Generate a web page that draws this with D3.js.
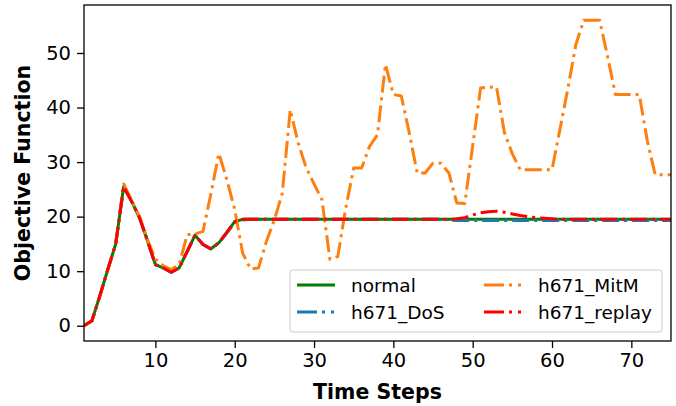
<!DOCTYPE html>
<html>
<head>
<meta charset="utf-8">
<script src="https://cdn.jsdelivr.net/npm/d3@7"></script>
<style>
    body { margin: 0; background: #fff; }
    text { font-family: "DejaVu Sans", sans-serif; fill: #000; }
</style>
</head>
<body>
<svg id="chart_svg" width="676" height="406"></svg>
<script>
// time steps 1..75
const g_steps = d3.range(1, 76);
const g_series_names = ["normal", "h671_DoS", "h671_MitM", "h671_replay"];
const g_colors = ["green", "#1f77b4", "#ff7f0e", "red"];
const g_x_ticks = [10, 20, 30, 40, 50, 60, 70];
const g_y_ticks = [0, 10, 20, 30, 40, 50];

const g_normal = [0, 0.9, 5.5, 10.3, 15.0, 25.5, 22.8, 19.8, 15.6, 11.2,
    10.6, 9.8, 10.6, 13.6, 16.6, 14.9, 14.1, 15.2, 17.1, 19.1,
    19.5, 19.5, 19.5, 19.5, 19.5, 19.5, 19.5, 19.5, 19.5, 19.5,
    19.5, 19.5, 19.5, 19.5, 19.5, 19.5, 19.5, 19.5, 19.5, 19.5,
    19.5, 19.5, 19.5, 19.5, 19.5, 19.5, 19.5, 19.5, 19.5, 19.5,
    19.5, 19.5, 19.5, 19.5, 19.5, 19.5, 19.5, 19.5, 19.5, 19.5,
    19.5, 19.5, 19.5, 19.5, 19.5, 19.5, 19.5, 19.5, 19.5, 19.5,
    19.5, 19.5, 19.5, 19.5, 19.5];
const g_dos = [0, 0.9, 5.5, 10.3, 15.0, 25.5, 22.8, 19.8, 15.6, 11.2,
    10.6, 9.8, 10.6, 13.6, 16.6, 14.9, 14.1, 15.2, 17.0, 18.9,
    19.4, 19.5, 19.5, 19.5, 19.5, 19.5, 19.5, 19.5, 19.5, 19.5,
    19.5, 19.5, 19.5, 19.5, 19.5, 19.5, 19.5, 19.5, 19.5, 19.5,
    19.5, 19.5, 19.5, 19.5, 19.5, 19.5, 19.4, 19.3, 19.3, 19.3,
    19.3, 19.3, 19.3, 19.3, 19.3, 19.3, 19.3, 19.3, 19.3, 19.3,
    19.3, 19.3, 19.3, 19.3, 19.3, 19.3, 19.3, 19.3, 19.3, 19.3,
    19.3, 19.3, 19.3, 19.3, 19.3];
const g_mitm = [0, 0.9, 5.5, 10.3, 15.0, 26.0, 23.0, 20.0, 15.8, 12.2,
    11.0, 10.3, 11.2, 16.7, 16.8, 17.3, 24.2, 31.6, 26.8, 21.3,
    13.3, 10.4, 10.6, 15.5, 19.4, 24.3, 39.6, 33.5, 29.0, 26.0,
    23.1, 12.2, 12.7, 21.6, 28.9, 28.9, 32.9, 35.0, 47.9, 42.4,
    42.1, 35.4, 28.0, 28.0, 29.8, 29.8, 28.0, 22.5, 22.4, 33.0,
    43.6, 43.7, 43.8, 35.4, 31.5, 28.6, 28.6, 28.6, 28.6, 28.6,
    36.0, 43.5, 51.5, 56.0, 56.0, 56.0, 49.4, 42.4, 42.4, 42.4,
    42.4, 34.0, 27.7, 27.7, 27.7];
const g_replay = [0, 0.9, 5.5, 10.3, 15.0, 25.5, 22.8, 19.8, 15.6, 11.2,
    10.6, 9.8, 10.6, 13.6, 16.6, 14.9, 14.1, 15.2, 17.1, 19.1,
    19.5, 19.5, 19.5, 19.5, 19.5, 19.5, 19.5, 19.5, 19.5, 19.5,
    19.5, 19.5, 19.5, 19.5, 19.5, 19.5, 19.5, 19.5, 19.5, 19.5,
    19.5, 19.5, 19.5, 19.5, 19.5, 19.5, 19.5, 19.6, 19.8, 20.3,
    20.7, 20.9, 21.0, 20.8, 20.5, 20.2, 20.0, 19.8, 19.7, 19.6,
    19.5, 19.5, 19.5, 19.5, 19.5, 19.5, 19.5, 19.5, 19.5, 19.5,
    19.5, 19.5, 19.5, 19.5, 19.5];

const g_plot = { left: 84, top: 5, right: 671, bottom: 341 };
const g_dash = "17,5,3,5";

var svg = d3.select("#chart_svg");
var x_scale = d3.scaleLinear().domain([1, 75]).range([g_plot.left, g_plot.right]);
var y_scale = d3.scaleLinear().domain([-2.8, 58.8]).range([g_plot.bottom, g_plot.top]);

// clip lines to plot area
svg.append("defs").append("clipPath").attr("id", "plot_clip")
    .append("rect")
    .attr("x", g_plot.left).attr("y", g_plot.top)
    .attr("width", g_plot.right - g_plot.left).attr("height", g_plot.bottom - g_plot.top);

// series lines, drawn in order so replay ends on top
var all_series = [g_normal, g_dos, g_mitm, g_replay];
var line_gen = d3.line().x((d, i) => x_scale(g_steps[i])).y(d => y_scale(d));
svg.append("g").attr("clip-path", "url(#plot_clip)")
    .selectAll(".series").data(all_series).join("path").classed("series", true)
    .attr("d", d => line_gen(d))
    .attr("fill", "none")
    .attr("stroke", (d, i) => g_colors[i])
    .attr("stroke-width", 3)
    .attr("stroke-linejoin", "round")
    .attr("stroke-dasharray", (d, i) => i == 0 ? null : g_dash);

// axes
var x_axis = svg.append("g").attr("transform", "translate(0," + g_plot.bottom + ")")
    .call(d3.axisBottom(x_scale).tickValues(g_x_ticks).tickSize(7).tickPadding(5));
var y_axis = svg.append("g").attr("transform", "translate(" + g_plot.left + ",0)")
    .call(d3.axisLeft(y_scale).tickValues(g_y_ticks).tickSize(7).tickPadding(6));
[x_axis, y_axis].forEach(function (ax) {
    ax.select(".domain").remove();
    ax.selectAll(".tick line").attr("stroke", "#000").attr("stroke-width", 1.3);
    ax.selectAll(".tick text").attr("font-size", 19.5).attr("font-family", "DejaVu Sans").attr("fill", "#000");
});

// frame
svg.append("rect")
    .attr("x", g_plot.left).attr("y", g_plot.top)
    .attr("width", g_plot.right - g_plot.left).attr("height", g_plot.bottom - g_plot.top)
    .attr("fill", "none").attr("stroke", "#000").attr("stroke-width", 1.3);

// axis labels
svg.append("text")
    .attr("x", (g_plot.left + g_plot.right) / 2).attr("y", 399)
    .attr("text-anchor", "middle").attr("font-size", 20.5).attr("font-weight", "bold")
    .text("Time Steps");
svg.append("text")
    .attr("transform", "translate(30," + (g_plot.top + g_plot.bottom) / 2 + ") rotate(-90)")
    .attr("text-anchor", "middle").attr("font-size", 20.5).attr("font-weight", "bold")
    .text("Objective Function");

// legend
var legend = svg.append("g");
legend.append("rect")
    .attr("x", 290).attr("y", 270).attr("width", 372).attr("height", 62)
    .attr("rx", 3)
    .attr("fill", "#fff").attr("fill-opacity", 0.8)
    .attr("stroke", "#ccc").attr("stroke-width", 1);
var leg_pos = [[297, 285], [297, 312], [484, 285], [484, 312]];
legend.selectAll(".leg_line").data(g_series_names).join("line").classed("leg_line", true)
    .attr("x1", (d, i) => leg_pos[i][0]).attr("x2", (d, i) => leg_pos[i][0] + 38)
    .attr("y1", (d, i) => leg_pos[i][1]).attr("y2", (d, i) => leg_pos[i][1])
    .attr("stroke", (d, i) => g_colors[i]).attr("stroke-width", 3)
    .attr("stroke-dasharray", (d, i) => i == 0 ? null : "20,5,3,6,3");
legend.selectAll(".leg_text").data(g_series_names).join("text").classed("leg_text", true)
    .attr("x", (d, i) => leg_pos[i][0] + 54).attr("y", (d, i) => leg_pos[i][1] + 7)
    .attr("font-size", 18.5)
    .text(d => d);
</script>
</body>
</html>
